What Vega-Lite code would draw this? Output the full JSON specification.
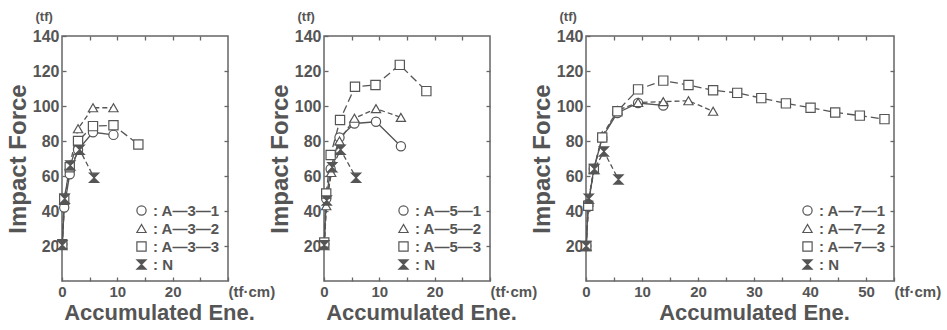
{
"$schema":"https://vega.github.io/schema/vega-lite/v6.json",
"padding":{"left":5,"top":9,"right":0,"bottom":0},
"background":"white",
"data":{"values":[
{"p":"A-3","s":"A—3—1","e":0.05,"f":21},{"p":"A-3","s":"A—3—1","e":0.4,"f":42},{"p":"A-3","s":"A—3—1","e":1.4,"f":61},{"p":"A-3","s":"A—3—1","e":2.9,"f":75},{"p":"A-3","s":"A—3—1","e":5.6,"f":85},{"p":"A-3","s":"A—3—1","e":9.3,"f":83.5},
{"p":"A-3","s":"A—3—2","e":0.05,"f":21},{"p":"A-3","s":"A—3—2","e":0.4,"f":46},{"p":"A-3","s":"A—3—2","e":1.4,"f":66},{"p":"A-3","s":"A—3—2","e":2.9,"f":87},{"p":"A-3","s":"A—3—2","e":5.6,"f":99},{"p":"A-3","s":"A—3—2","e":9.3,"f":99},
{"p":"A-3","s":"A—3—3","e":0.05,"f":21},{"p":"A-3","s":"A—3—3","e":0.4,"f":47},{"p":"A-3","s":"A—3—3","e":1.4,"f":65},{"p":"A-3","s":"A—3—3","e":2.9,"f":80},{"p":"A-3","s":"A—3—3","e":5.6,"f":88.5},{"p":"A-3","s":"A—3—3","e":9.3,"f":89},{"p":"A-3","s":"A—3—3","e":13.8,"f":78},
{"p":"A-3","s":"N","e":0.05,"f":20.5},{"p":"A-3","s":"N","e":0.5,"f":47},{"p":"A-3","s":"N","e":1.5,"f":66},{"p":"A-3","s":"N","e":3.2,"f":75},{"p":"A-3","s":"N","e":5.8,"f":59},
{"p":"A-5","s":"A—5—1","e":0.05,"f":21},{"p":"A-5","s":"A—5—1","e":0.4,"f":47},{"p":"A-5","s":"A—5—1","e":1.2,"f":64},{"p":"A-5","s":"A—5—1","e":2.8,"f":82},{"p":"A-5","s":"A—5—1","e":5.5,"f":90},{"p":"A-5","s":"A—5—1","e":9.4,"f":91},{"p":"A-5","s":"A—5—1","e":13.9,"f":77},
{"p":"A-5","s":"A—5—2","e":0.05,"f":21},{"p":"A-5","s":"A—5—2","e":0.4,"f":43},{"p":"A-5","s":"A—5—2","e":1.3,"f":62},{"p":"A-5","s":"A—5—2","e":2.8,"f":80},{"p":"A-5","s":"A—5—2","e":5.5,"f":93},{"p":"A-5","s":"A—5—2","e":9.4,"f":98.5},{"p":"A-5","s":"A—5—2","e":13.9,"f":93.5},
{"p":"A-5","s":"A—5—3","e":0.05,"f":22},{"p":"A-5","s":"A—5—3","e":0.4,"f":50},{"p":"A-5","s":"A—5—3","e":1.2,"f":72},{"p":"A-5","s":"A—5—3","e":2.9,"f":92},{"p":"A-5","s":"A—5—3","e":5.6,"f":111},{"p":"A-5","s":"A—5—3","e":9.3,"f":112},{"p":"A-5","s":"A—5—3","e":13.7,"f":123.5},{"p":"A-5","s":"A—5—3","e":18.5,"f":108.5},
{"p":"A-5","s":"N","e":0.05,"f":20.5},{"p":"A-5","s":"N","e":0.5,"f":46},{"p":"A-5","s":"N","e":1.5,"f":65},{"p":"A-5","s":"N","e":3.0,"f":75},{"p":"A-5","s":"N","e":5.8,"f":59},
{"p":"A-7","s":"A—7—1","e":0.05,"f":20},{"p":"A-7","s":"A—7—1","e":0.4,"f":44},{"p":"A-7","s":"A—7—1","e":1.4,"f":64},{"p":"A-7","s":"A—7—1","e":2.9,"f":82},{"p":"A-7","s":"A—7—1","e":5.6,"f":96},{"p":"A-7","s":"A—7—1","e":9.3,"f":101.7},{"p":"A-7","s":"A—7—1","e":13.8,"f":100.3},
{"p":"A-7","s":"A—7—2","e":0.05,"f":20},{"p":"A-7","s":"A—7—2","e":0.4,"f":45},{"p":"A-7","s":"A—7—2","e":1.4,"f":64},{"p":"A-7","s":"A—7—2","e":2.9,"f":83},{"p":"A-7","s":"A—7—2","e":5.6,"f":97.5},{"p":"A-7","s":"A—7—2","e":9.3,"f":102},{"p":"A-7","s":"A—7—2","e":13.8,"f":102.5},{"p":"A-7","s":"A—7—2","e":18.3,"f":103},{"p":"A-7","s":"A—7—2","e":22.7,"f":97},
{"p":"A-7","s":"A—7—3","e":0.05,"f":20},{"p":"A-7","s":"A—7—3","e":0.4,"f":43},{"p":"A-7","s":"A—7—3","e":1.4,"f":64},{"p":"A-7","s":"A—7—3","e":2.9,"f":82},{"p":"A-7","s":"A—7—3","e":5.6,"f":97},{"p":"A-7","s":"A—7—3","e":9.3,"f":109.5},{"p":"A-7","s":"A—7—3","e":13.8,"f":114.5},{"p":"A-7","s":"A—7—3","e":18.3,"f":112},{"p":"A-7","s":"A—7—3","e":22.7,"f":109},{"p":"A-7","s":"A—7—3","e":27.0,"f":107.5},{"p":"A-7","s":"A—7—3","e":31.3,"f":104.5},{"p":"A-7","s":"A—7—3","e":35.7,"f":101.5},{"p":"A-7","s":"A—7—3","e":40.1,"f":99},{"p":"A-7","s":"A—7—3","e":44.5,"f":96.3},{"p":"A-7","s":"A—7—3","e":48.9,"f":94.5},{"p":"A-7","s":"A—7—3","e":53.3,"f":92.5},
{"p":"A-7","s":"N","e":0.05,"f":20},{"p":"A-7","s":"N","e":0.5,"f":47},{"p":"A-7","s":"N","e":1.5,"f":64},{"p":"A-7","s":"N","e":3.2,"f":74},{"p":"A-7","s":"N","e":5.8,"f":58}
]},
"hconcat":[
{
 "width":166,"height":245,
 "transform":[{"filter":"datum.p == 'A-3'"}],
 "layer":[
  {"transform":[{"filter":"slice(datum.s, -1) == '1'"}],
   "mark":{"type":"line","color":"#555","strokeWidth":1.3},
   "encoding":{
    "x":{"field":"e","type":"quantitative","scale":{"domain":[0,30],"nice":false,"zero":false},
     "axis":{"orient":"bottom","values":[0,5,10,15,20,25,30],"labelExpr":"datum.value == 30 ? '(tf·cm)' : (datum.value % 10 == 0 ? datum.label : '')","labelAlign":{"condition":{"test":"datum.value == 30","value":"left"},"value":"center"},"labelPadding":7,"title":"Accumulated  Ene.","titlePadding":3,"titleX":97}},
    "y":{"field":"f","type":"quantitative","scale":{"domain":[0,140],"nice":false},
     "axis":{"orient":"left","values":[20,40,60,80,100,120,140],"labelPadding":7,"title":"Impact  Force","titlePadding":2}},
    "detail":{"field":"s","type":"nominal"},
    "order":{"field":"e","type":"quantitative"}
   }},
  {"transform":[{"filter":"slice(datum.s, -1) == '2' || datum.s == 'N'"}],
   "mark":{"type":"line","color":"#555","strokeWidth":1.3,"strokeDash":[5,3]},
   "encoding":{
    "x":{"field":"e","type":"quantitative","axis":null},
    "y":{"field":"f","type":"quantitative","axis":null},
    "detail":{"field":"s","type":"nominal"},
    "order":{"field":"e","type":"quantitative"}
   }},
  {"transform":[{"filter":"slice(datum.s, -1) == '3'"}],
   "mark":{"type":"line","color":"#555","strokeWidth":1.3,"strokeDash":[8,4]},
   "encoding":{
    "x":{"field":"e","type":"quantitative","axis":null},
    "y":{"field":"f","type":"quantitative","axis":null},
    "detail":{"field":"s","type":"nominal"},
    "order":{"field":"e","type":"quantitative"}
   }},
  {"mark":{"type":"point","strokeWidth":1.2,"size":85,"opacity":1},
   "encoding":{
    "x":{"field":"e","type":"quantitative","axis":{"orient":"top","labels":false,"values":[5,10,15,20,25],"title":"(tf)","titleAngle":0,"titleX":-27,"titleY":-16,"titleAlign":"left","titleBaseline":"alphabetic","titleFontSize":13}},
    "y":{"field":"f","type":"quantitative","axis":{"orient":"right","labels":false,"title":null,"values":[20,40,60,80,100,120]}},
    "shape":{"field":"s","type":"nominal","scale":{"domain":["A—3—1","A—3—2","A—3—3","N"],"range":["circle","triangle-up","square","M-1,-1H1L-1,1H1Z"]},"legend":{"title":null,"orient":"bottom-right","labelExpr":"': ' + datum.label"}},
    "fill":{"field":"s","type":"nominal","scale":{"domain":["A—3—1","A—3—2","A—3—3","N"],"range":["white","white","white","#555"]},"legend":{"title":null,"orient":"bottom-right","labelExpr":"': ' + datum.label"}},
    "stroke":{"field":"s","type":"nominal","scale":{"domain":["A—3—1","A—3—2","A—3—3","N"],"range":["#555","#555","#555","#555"]},"legend":{"title":null,"orient":"bottom-right","labelExpr":"': ' + datum.label"}}
   }}
 ],
 "resolve":{"axis":{"x":"independent","y":"independent"}}
},
{
 "width":166,"height":245,
 "transform":[{"filter":"datum.p == 'A-5'"}],
 "layer":[
  {"transform":[{"filter":"slice(datum.s, -1) == '1'"}],
   "mark":{"type":"line","color":"#555","strokeWidth":1.3},
   "encoding":{
    "x":{"field":"e","type":"quantitative","scale":{"domain":[0,30],"nice":false,"zero":false},
     "axis":{"orient":"bottom","values":[0,5,10,15,20,25,30],"labelExpr":"datum.value == 30 ? '(tf·cm)' : (datum.value % 10 == 0 ? datum.label : '')","labelAlign":{"condition":{"test":"datum.value == 30","value":"left"},"value":"center"},"labelPadding":7,"title":"Accumulated  Ene.","titlePadding":3,"titleX":97}},
    "y":{"field":"f","type":"quantitative","scale":{"domain":[0,140],"nice":false},
     "axis":{"orient":"left","values":[20,40,60,80,100,120,140],"labelPadding":7,"title":"Impact  Force","titlePadding":2}},
    "detail":{"field":"s","type":"nominal"},
    "order":{"field":"e","type":"quantitative"}
   }},
  {"transform":[{"filter":"slice(datum.s, -1) == '2' || datum.s == 'N'"}],
   "mark":{"type":"line","color":"#555","strokeWidth":1.3,"strokeDash":[5,3]},
   "encoding":{
    "x":{"field":"e","type":"quantitative","axis":null},
    "y":{"field":"f","type":"quantitative","axis":null},
    "detail":{"field":"s","type":"nominal"},
    "order":{"field":"e","type":"quantitative"}
   }},
  {"transform":[{"filter":"slice(datum.s, -1) == '3'"}],
   "mark":{"type":"line","color":"#555","strokeWidth":1.3,"strokeDash":[8,4]},
   "encoding":{
    "x":{"field":"e","type":"quantitative","axis":null},
    "y":{"field":"f","type":"quantitative","axis":null},
    "detail":{"field":"s","type":"nominal"},
    "order":{"field":"e","type":"quantitative"}
   }},
  {"mark":{"type":"point","strokeWidth":1.2,"size":85,"opacity":1},
   "encoding":{
    "x":{"field":"e","type":"quantitative","axis":{"orient":"top","labels":false,"values":[5,10,15,20,25],"title":"(tf)","titleAngle":0,"titleX":-27,"titleY":-16,"titleAlign":"left","titleBaseline":"alphabetic","titleFontSize":13}},
    "y":{"field":"f","type":"quantitative","axis":{"orient":"right","labels":false,"title":null,"values":[20,40,60,80,100,120]}},
    "shape":{"field":"s","type":"nominal","scale":{"domain":["A—5—1","A—5—2","A—5—3","N"],"range":["circle","triangle-up","square","M-1,-1H1L-1,1H1Z"]},"legend":{"title":null,"orient":"bottom-right","labelExpr":"': ' + datum.label"}},
    "fill":{"field":"s","type":"nominal","scale":{"domain":["A—5—1","A—5—2","A—5—3","N"],"range":["white","white","white","#555"]},"legend":{"title":null,"orient":"bottom-right","labelExpr":"': ' + datum.label"}},
    "stroke":{"field":"s","type":"nominal","scale":{"domain":["A—5—1","A—5—2","A—5—3","N"],"range":["#555","#555","#555","#555"]},"legend":{"title":null,"orient":"bottom-right","labelExpr":"': ' + datum.label"}}
   }}
 ],
 "resolve":{"axis":{"x":"independent","y":"independent"}}
},
{
 "width":308,"height":245,
 "transform":[{"filter":"datum.p == 'A-7'"}],
 "layer":[
  {"transform":[{"filter":"slice(datum.s, -1) == '1'"}],
   "mark":{"type":"line","color":"#555","strokeWidth":1.3},
   "encoding":{
    "x":{"field":"e","type":"quantitative","scale":{"domain":[0,55],"nice":false,"zero":false},
     "axis":{"orient":"bottom","values":[0,5,10,15,20,25,30,35,40,45,50,55],"labelExpr":"datum.value == 55 ? '(tf·cm)' : (datum.value % 10 == 0 ? datum.label : '')","labelAlign":{"condition":{"test":"datum.value == 55","value":"left"},"value":"center"},"labelPadding":7,"title":"Accumulated  Ene.","titlePadding":3,"titleX":168}},
    "y":{"field":"f","type":"quantitative","scale":{"domain":[0,140],"nice":false},
     "axis":{"orient":"left","values":[20,40,60,80,100,120,140],"labelPadding":7,"title":"Impact  Force","titlePadding":2}},
    "detail":{"field":"s","type":"nominal"},
    "order":{"field":"e","type":"quantitative"}
   }},
  {"transform":[{"filter":"slice(datum.s, -1) == '2' || datum.s == 'N'"}],
   "mark":{"type":"line","color":"#555","strokeWidth":1.3,"strokeDash":[5,3]},
   "encoding":{
    "x":{"field":"e","type":"quantitative","axis":null},
    "y":{"field":"f","type":"quantitative","axis":null},
    "detail":{"field":"s","type":"nominal"},
    "order":{"field":"e","type":"quantitative"}
   }},
  {"transform":[{"filter":"slice(datum.s, -1) == '3'"}],
   "mark":{"type":"line","color":"#555","strokeWidth":1.3,"strokeDash":[8,4]},
   "encoding":{
    "x":{"field":"e","type":"quantitative","axis":null},
    "y":{"field":"f","type":"quantitative","axis":null},
    "detail":{"field":"s","type":"nominal"},
    "order":{"field":"e","type":"quantitative"}
   }},
  {"mark":{"type":"point","strokeWidth":1.2,"size":85,"opacity":1},
   "encoding":{
    "x":{"field":"e","type":"quantitative","axis":{"orient":"top","labels":false,"values":[5,10,15,20,25,30,35,40,45,50],"title":"(tf)","titleAngle":0,"titleX":-27,"titleY":-16,"titleAlign":"left","titleBaseline":"alphabetic","titleFontSize":13}},
    "y":{"field":"f","type":"quantitative","axis":{"orient":"right","labels":false,"title":null,"values":[20,40,60,80,100,120]}},
    "shape":{"field":"s","type":"nominal","scale":{"domain":["A—7—1","A—7—2","A—7—3","N"],"range":["circle","triangle-up","square","M-1,-1H1L-1,1H1Z"]},"legend":{"title":null,"orient":"bottom-right","labelExpr":"': ' + datum.label"}},
    "fill":{"field":"s","type":"nominal","scale":{"domain":["A—7—1","A—7—2","A—7—3","N"],"range":["white","white","white","#555"]},"legend":{"title":null,"orient":"bottom-right","labelExpr":"': ' + datum.label"}},
    "stroke":{"field":"s","type":"nominal","scale":{"domain":["A—7—1","A—7—2","A—7—3","N"],"range":["#555","#555","#555","#555"]},"legend":{"title":null,"orient":"bottom-right","labelExpr":"': ' + datum.label"}}
   }}
 ],
 "resolve":{"axis":{"x":"independent","y":"independent"}}
}
],
"spacing":-9,
"resolve":{"scale":{"shape":"independent","fill":"independent","stroke":"independent"}},
"config":{
 "font":"Liberation Sans",
 "view":{"stroke":"#666","strokeWidth":1.5},
 "axis":{"domain":false,"grid":false,"tickColor":"#666","tickSize":-4,"tickWidth":1.3,
  "labelFont":"Liberation Sans","labelFontSize":16,"labelFontWeight":"bold","labelColor":"#555","labelFlush":false,"labelOverlap":false,"labelBound":false,
  "titleFont":"Liberation Sans","titleFontSize":24,"titleFontWeight":"bold","titleColor":"#555"},
 "axisX":{"titleFontSize":22,"labelFontSize":15},
 "legend":{"offset":8,"padding":0,"rowPadding":2,"labelFont":"Liberation Sans","labelFontSize":15,"labelFontWeight":"bold","labelColor":"#555","symbolStrokeWidth":1.2,"symbolSize":85,"labelOffset":4}
}
}
